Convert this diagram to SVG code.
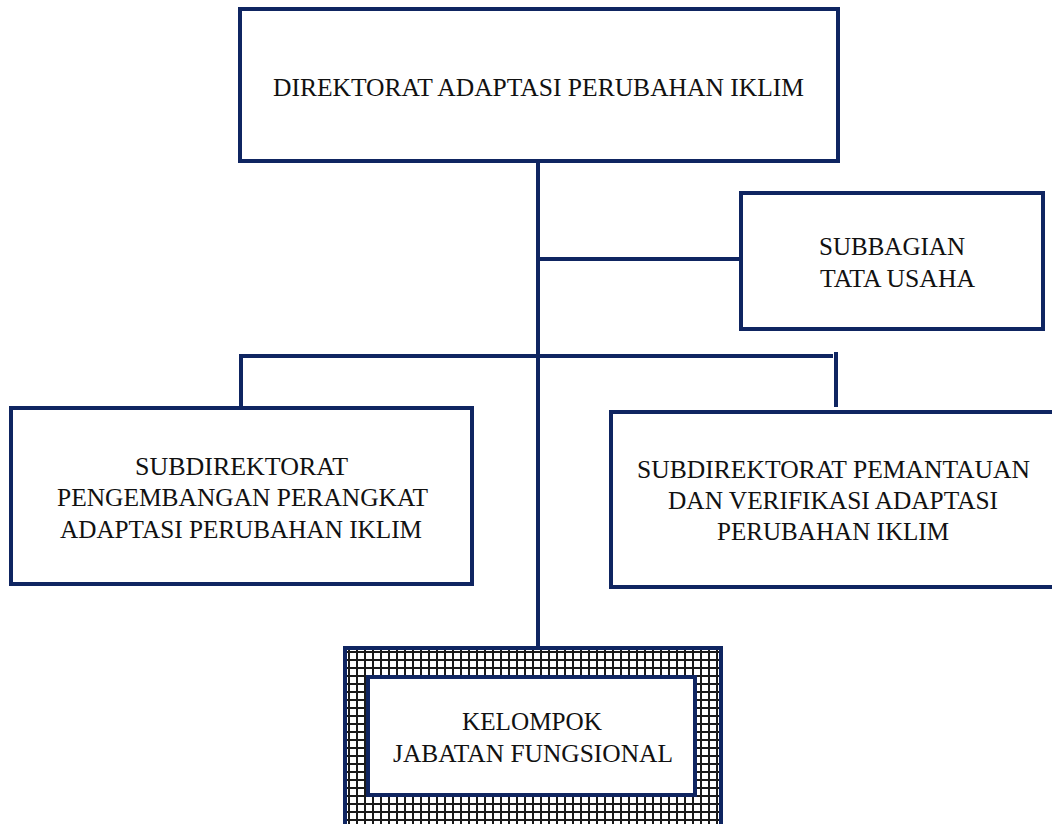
<svg xmlns="http://www.w3.org/2000/svg" width="1052" height="824" viewBox="0 0 1052 824">
<style>
.box{fill:#fff;stroke:#0f2561;stroke-width:4}
.ln{stroke:#0f2561;stroke-width:4;fill:none}
.t{font-family:"Liberation Serif","Times New Roman",serif;font-size:25px;fill:#111;text-anchor:middle}
.tl{font-family:"Liberation Serif","Times New Roman",serif;font-size:25px;fill:#111}
</style>
<defs>
<pattern id="grid" x="348" y="651" width="8" height="8" patternUnits="userSpaceOnUse">
<rect width="8" height="8" fill="#fff"/>
<rect x="0" y="0" width="2" height="8" fill="#1a1a1a"/>
<rect x="0" y="0" width="8" height="2" fill="#1a1a1a"/>
</pattern>
</defs>
<rect width="1052" height="824" fill="#fff"/>
<g id="connectors">
<line class="ln" x1="538" y1="161" x2="538" y2="648"/>
<line class="ln" x1="538" y1="259" x2="741" y2="259"/>
<line class="ln" x1="239" y1="356" x2="833" y2="356"/>
<line class="ln" x1="241" y1="354" x2="241" y2="408"/>
<line class="ln" x1="836" y1="352" x2="836" y2="407"/>
</g>
<g id="direktorat">
<rect class="box" x="240" y="9" width="598" height="152"/>
<text class="t" x="538.5" y="96" textLength="531" lengthAdjust="spacingAndGlyphs">DIREKTORAT ADAPTASI PERUBAHAN IKLIM</text>
</g>
<g id="subbagian">
<rect class="box" x="741" y="193" width="302" height="136"/>
<text class="tl" x="819" y="255" textLength="146" lengthAdjust="spacingAndGlyphs">SUBBAGIAN</text>
<text class="tl" x="820" y="287" textLength="155" lengthAdjust="spacingAndGlyphs">TATA USAHA</text>
</g>
<g id="subdit-pengembangan">
<rect class="box" x="11" y="408" width="461" height="176"/>
<text class="t" x="241.5" y="475" textLength="213" lengthAdjust="spacingAndGlyphs">SUBDIREKTORAT</text>
<text class="t" x="242.5" y="506" textLength="371" lengthAdjust="spacingAndGlyphs">PENGEMBANGAN PERANGKAT</text>
<text class="t" x="241" y="538" textLength="362" lengthAdjust="spacingAndGlyphs">ADAPTASI PERUBAHAN IKLIM</text>
</g>
<g id="subdit-pemantauan">
<rect class="box" x="611" y="412" width="447" height="175"/>
<text class="t" x="833.5" y="478" textLength="393" lengthAdjust="spacingAndGlyphs">SUBDIREKTORAT PEMANTAUAN</text>
<text class="t" x="833" y="509" textLength="330" lengthAdjust="spacingAndGlyphs">DAN VERIFIKASI ADAPTASI</text>
<text class="t" x="833" y="540" textLength="232" lengthAdjust="spacingAndGlyphs">PERUBAHAN IKLIM</text>
</g>
<g id="kelompok">
<rect x="345" y="648" width="376" height="190" fill="url(#grid)" stroke="#0f2561" stroke-width="4"/>
<rect class="box" x="368" y="677" width="327" height="118"/>
<text class="t" x="532" y="730" textLength="140" lengthAdjust="spacingAndGlyphs">KELOMPOK</text>
<text class="t" x="533" y="762" textLength="280" lengthAdjust="spacingAndGlyphs">JABATAN FUNGSIONAL</text>
</g>
</svg>
